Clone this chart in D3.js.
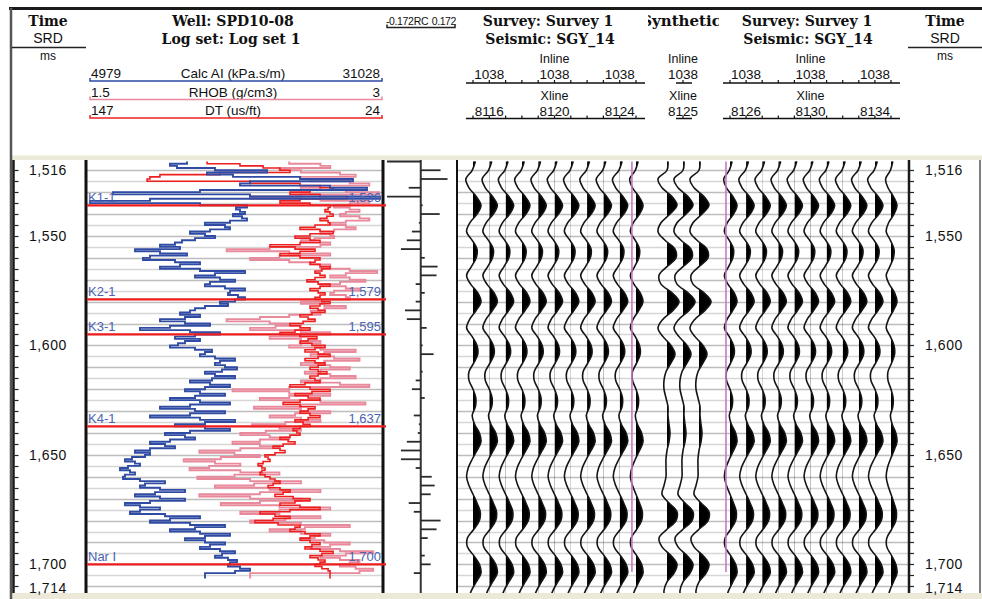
<!DOCTYPE html>
<html><head><meta charset="utf-8">
<script src="https://cdn.jsdelivr.net/npm/d3@7/dist/d3.min.js"></script>
<style>html,body{margin:0;padding:0;background:#fff;overflow:hidden}svg{display:block}</style>
</head><body>
<svg id="chart" width="982" height="599"></svg>
<script>
// ---------------- data ----------------
const timeLabels = [1516, 1550, 1600, 1650, 1700, 1714];
const markerNames = ["K1-1", "K2-1", "K3-1", "K4-1", "Nar I"];
const markerTimes = [1536, 1579, 1595, 1637, 1700];

const logStart = 1516, logStep = 1;
const calcAI = [
  13780,12269,12891,16269,20892,15558,17870,23826,28538,19381,
  18492,26493,29782,14936,7202,19381,30938,10491,5157,14936,
  19114,18136,18492,18936,17870,18670,19114,17603,15380,17158,
  17603,15825,14047,15380,16269,14491,13336,12713,11380,13158,
  9157,11380,13780,10491,9869,12713,14936,13158,11380,14936,
  18936,16269,14491,16714,18047,15825,15380,17158,18936,17603,
  17425,18314,18936,18047,16714,17425,15380,14491,14047,13158,
  14936,13602,11380,13602,15825,12269,9602,14047,16714,14491,
  12713,14936,13602,12980,12269,14491,16003,15380,14936,16269,
  18047,16714,16269,17158,18225,16892,15380,16269,18047,16003,
  14047,15825,17603,15380,13602,14936,17158,14491,12269,14936,
  17603,14047,11380,14491,17158,14047,10491,14936,18047,15380,
  12713,15380,17603,14047,11824,13602,14491,12269,10491,11824,
  12713,10491,9157,10491,10046,8891,8268,9157,9602,8535,
  7824,8713,9157,8268,8091,9602,11824,10046,9602,11380,
  13602,10935,9157,11380,13602,10491,8268,9602,11380,9602,
  8713,11824,14936,12269,10491,14047,17158,14491,12269,14936,
  17603,15380,13602,15380,17158,15825,14936,16714,18047,16892,
  16269,17425,18225,17603,17425,18492,19381,18047,15380];
const rhob = [
  2.53,2.69,2.74,2.48,2.59,2.79,2.87,2.59,2.64,2.84,
  2.94,2.69,2.59,2.82,2.99,2.59,2.33,2.69,2.94,2.84,
  2.76,2.84,2.89,2.82,2.79,2.89,2.94,2.82,2.74,2.82,
  2.87,2.76,2.69,2.74,2.76,2.66,2.59,2.74,2.69,2.43,
  2.21,2.53,2.74,2.48,2.33,2.53,2.64,2.74,2.69,2.84,
  2.98,2.82,2.74,2.84,2.92,2.79,2.69,2.82,2.89,2.76,
  2.74,2.82,2.84,2.71,2.59,2.71,2.82,2.71,2.64,2.69,
  2.53,2.38,2.21,2.43,2.59,2.46,2.33,2.59,2.74,2.59,
  2.43,2.59,2.69,2.59,2.53,2.69,2.87,2.71,2.64,2.76,
  2.89,2.71,2.59,2.74,2.84,2.69,2.61,2.74,2.87,2.69,
  2.59,2.79,2.94,2.53,2.24,2.53,2.74,2.53,2.38,2.69,
  2.92,2.59,2.35,2.59,2.74,2.56,2.43,2.59,2.69,2.51,
  2.34,2.48,2.59,2.41,2.28,2.43,2.53,2.38,2.24,2.38,
  2.48,2.28,2.07,2.25,2.38,2.18,1.99,2.15,2.28,2.12,
  2.02,2.28,2.48,2.25,2.06,2.33,2.59,2.35,2.15,2.43,
  2.69,2.38,2.07,2.33,2.59,2.38,2.18,2.48,2.74,2.48,
  2.28,2.48,2.69,2.51,2.33,2.59,2.84,2.61,2.43,2.59,
  2.74,2.66,2.59,2.71,2.84,2.74,2.64,2.79,2.96,2.82,
  2.69,2.79,2.89,2.84,2.79,2.87,2.96,2.89,2.33];
const dt = [
  97.0,83.2,73.5,66.4,62.2,91.6,116.8,121.0,122.2,79.0,
  58.0,49.6,44.1,53.8,62.2,49.6,38.3,58.0,66.4,53.8,
  45.4,46.2,47.5,45.4,44.1,46.7,49.6,46.2,45.4,51.7,
  58.0,49.6,44.1,53.8,60.1,53.8,49.6,58.0,70.6,60.1,
  51.7,58.0,66.4,58.0,49.6,51.7,53.8,49.6,45.4,48.8,
  51.7,49.6,47.5,51.7,55.1,50.4,45.4,49.6,53.8,50.4,
  47.5,49.6,51.7,48.8,45.4,49.6,53.8,50.4,47.5,53.0,
  58.0,54.6,51.7,56.7,62.2,58.0,53.8,60.1,66.4,58.0,
  50.9,54.6,58.0,53.0,47.5,51.7,55.9,50.4,45.4,50.4,
  55.9,51.7,47.5,50.4,53.8,50.4,46.7,50.4,53.8,51.7,
  49.6,55.9,62.2,53.8,45.4,53.0,60.1,54.6,49.6,58.0,
  65.1,58.0,51.7,54.6,58.0,53.8,49.6,54.6,60.1,56.7,
  53.8,58.0,60.9,59.3,58.0,62.2,66.4,63.0,60.1,65.1,
  69.3,66.4,64.3,68.5,72.7,71.4,70.6,73.5,75.6,74.0,
  72.7,74.0,74.8,72.7,70.6,68.5,66.4,69.3,71.4,66.4,
  62.2,65.1,68.5,60.9,53.8,60.1,66.4,58.0,49.6,62.2,
  74.8,68.5,62.2,69.3,76.9,67.2,58.0,60.1,62.2,55.9,
  49.6,53.8,58.0,53.8,49.6,53.0,55.9,49.6,44.1,48.8,
  53.8,50.4,47.5,49.6,51.7,48.8,46.2,45.4,45.4];

const reflStart = 1516, reflStep = 4;
const reflectivity = [-0.160,0.094,0.127,-0.057,-0.160,0.009,0.090,-0.009,-0.042,-0.066,
  -0.094,0.019,0.080,0.075,-0.024,0.019,-0.024,-0.075,-0.066,0.028,
  0,0.009,0.061,0,0.009,-0.024,-0.042,0.019,0,-0.033,
  -0.009,-0.014,-0.066,-0.094,-0.094,-0.024,0.052,0.066,0.047,-0.057,
  -0.033,0.094,0.075,0.033,0,0.019,0.047,-0.033,0,0];

const seisStart = 1516, seisStep = 4;
const seismicTrace = [0.3,-0.1,-0.9,-0.5,0.4,1.0,0.5,-0.4,-0.8,-0.1,
  0.5,0.4,-0.2,-0.8,-0.3,0.6,1.0,0.4,-0.4,-0.8,
  -0.1,0.5,0.6,0.1,-0.5,-0.5,0.0,0.35,0.3,-0.1,
  0.2,0.8,1.0,0.5,-0.1,-0.6,-0.8,-0.5,0.0,0.5,
  0.9,0.8,0.1,-0.7,-0.7,0.1,0.8,1.0,0.4,-0.2,-0.6];
const syntheticTrace = [0.1,0.0,-0.9,-0.5,0.5,1.0,0.3,-0.6,-0.9,-0.2,
  0.8,0.9,0.0,-0.8,-0.6,0.5,1.2,0.6,-0.4,-0.9,
  -0.4,0.4,0.8,0.4,-0.1,-0.3,-0.3,-0.1,0.1,0.1,
  0.2,0.3,0.2,0.0,-0.1,-0.1,-0.1,-0.3,-0.5,0.2,
  1.0,0.9,0.0,-0.8,-0.5,0.4,1.0,0.7,0.0,-0.3,-0.2];

const inlineNo = "1038";
const xlinesLeft = [8115,8116,8117,8118,8119,8120,8121,8122,8123,8124,8125];
const xlinesRight = [8125,8126,8127,8128,8129,8130,8131,8132,8133,8134,8135];
const gainLeft = [8,8,8,8,8,8,8,8,8,8,7];
const gainRight = [7,8,8,8,8,8,8,8,8,8,6];
const synthGain = [10,10,10];
const labelXlinesLeft = [8116, 8120, 8124];
const labelXlinesRight = [8126, 8130, 8134];
const synthXline = 8125;
const wellXline = 8124.75;
const logEndTime = 1703.5;
const rcRange = ["-0.172", "RC", "0.172"];

// ---------------- layout ----------------
const svg = d3.select("#chart");
const defs = svg.append("defs");
const sans = "'Liberation Sans', Arial, sans-serif";
const serif = "'DejaVu Serif', serif";
const plotTop = 160, plotBot = 593;
const yT = d3.scaleLinear().domain([1516, 1714]).range([161.5, 595]);

const xAI = d3.scaleLinear().domain([4979, 31028]).range([88, 381]);
const xRHOB = d3.scaleLinear().domain([1.5, 3]).range([88, 381]);
const xDT = d3.scaleLinear().domain([147, 24]).range([88, 381]);
const xRC = d3.scaleLinear().domain([-0.172, 0.172]).range([384.5, 457]);
const xsL = d3.scaleLinear().domain([8115, 8125]).range([473, 636]);
const xsR = d3.scaleLinear().domain([8125, 8135]).range([730, 891]);
const xsS = d3.scaleLinear().domain([0, 2]).range([667, 699]);
const COL = {ai: "#2f4ba3", rhob: "#e8899c", dt: "#ee1f1f", mk: "#ee1c1c", mkText: "#4a63b3", mag: "#c679c6"};

// frame
svg.append("rect").attr("x", 12).attr("y", 155.5).attr("width", 970).attr("height", 4.5).attr("fill", "#ece9d8");
svg.append("rect").attr("x", 12).attr("y", 593).attr("width", 970).attr("height", 6).attr("fill", "#ece9d8");
svg.append("rect").attr("x", 9).attr("y", 7).attr("width", 973).attr("height", 3).attr("fill", "#1a1a1a");
svg.append("line").attr("x1", 11).attr("x2", 11).attr("y1", 8).attr("y2", 599).attr("stroke", "#555").attr("stroke-width", 2.5);
svg.append("line").attr("x1", 980).attr("x2", 980).attr("y1", plotTop).attr("y2", plotBot).attr("stroke", "#555").attr("stroke-width", 1.5);

defs.append("clipPath").attr("id", "plotClip").append("rect")
  .attr("x", 0).attr("y", plotTop).attr("width", 982).attr("height", plotBot - plotTop);
defs.append("clipPath").attr("id", "logClip").append("rect")
  .attr("x", 87).attr("y", plotTop).attr("width", 295).attr("height", plotBot - plotTop);

const plot = svg.append("g").attr("clip-path", "url(#plotClip)");

// grid lines
const gridTimes = d3.range(1520, 1714, 5);
[[87, 382], [458, 908]].forEach(([a, b]) => {
  plot.selectAll(null).data(gridTimes).enter().append("line")
    .attr("x1", a).attr("x2", b)
    .attr("y1", d => Math.round(yT(d)) + 0.5).attr("y2", d => Math.round(yT(d)) + 0.5)
    .attr("stroke", d => d % 10 === 0 ? "#bdbdbd" : "#d6d6d6").attr("stroke-width", 1.3);
});

// time axes
function timeAxis(xLine, labelX) {
  plot.append("line").attr("x1", xLine).attr("x2", xLine).attr("y1", plotTop).attr("y2", plotBot)
    .attr("stroke", "#1a1a1a").attr("stroke-width", 2.5);
  plot.selectAll(null).data(gridTimes).enter().append("line")
    .attr("x1", xLine + 1).attr("x2", xLine + 5)
    .attr("y1", d => Math.round(yT(d)) + 0.5).attr("y2", d => Math.round(yT(d)) + 0.5)
    .attr("stroke", "#222").attr("stroke-width", 1.2);
  svg.selectAll(null).data(timeLabels).enter().append("text")
    .attr("x", labelX).attr("y", d => Math.max(170, Math.min(588, yT(d))))
    .attr("dy", "0.36em").attr("text-anchor", "middle")
    .attr("font-family", sans).attr("font-size", 14).attr("letter-spacing", 0.6).attr("fill", "#111")
    .text(d => d3.format(",")(d));
}
timeAxis(13.5, 48);
timeAxis(909, 944);

// track borders
[[86, 3], [383, 3], [457, 2]].forEach(([x, w]) => {
  plot.append("line").attr("x1", x).attr("x2", x).attr("y1", plotTop).attr("y2", plotBot)
    .attr("stroke", "#111").attr("stroke-width", w);
});
plot.append("line").attr("x1", xRC(0)).attr("x2", xRC(0)).attr("y1", plotTop).attr("y2", plotBot)
  .attr("stroke", "#333").attr("stroke-width", 2);

// reflectivity spikes
plot.selectAll(null).data(reflectivity).enter().append("line")
  .attr("x1", xRC(0)).attr("x2", d => xRC(d))
  .attr("y1", (d, i) => yT(reflStart + i * reflStep)).attr("y2", (d, i) => yT(reflStart + i * reflStep))
  .attr("stroke", "#2a2a2a").attr("stroke-width", 1.8);

// logs (step curves)
const logG = plot.append("g").attr("clip-path", "url(#logClip)");
function stepPoints(vals, xs) {
  const pts = [];
  vals.forEach((v, i) => {
    const y = yT(logStart + i * logStep);
    if (i > 0) pts.push([xs(vals[i - 1]), y]);
    pts.push([xs(v), y]);
  });
  pts.push([xs(vals[vals.length - 1]), yT(logStart + (vals.length - 1) * logStep + 2.5)]);
  return pts;
}
const lineGen = d3.line();
[[rhob, xRHOB, COL.rhob, 1.9], [dt, xDT, COL.dt, 1.6], [calcAI, xAI, COL.ai, 1.9]].forEach(([vals, xs, c, w]) => {
  logG.append("path").attr("d", lineGen(stepPoints(vals, xs)))
    .attr("fill", "none").attr("stroke", c).attr("stroke-width", w);
});

// markers
markerTimes.forEach((t, i) => {
  plot.append("line").attr("x1", 87).attr("x2", 386).attr("y1", yT(t)).attr("y2", yT(t))
    .attr("stroke", COL.mk).attr("stroke-width", 2.2);
  plot.append("text").attr("x", 88).attr("y", yT(t) - 3).attr("font-family", sans).attr("font-size", 13)
    .attr("fill", COL.mkText).text(markerNames[i]);
  plot.append("text").attr("x", 381).attr("y", yT(t) - 3).attr("text-anchor", "end").attr("font-family", sans)
    .attr("font-size", 13).attr("fill", COL.mkText).text(d3.format(",")(t));
});

// seismic wiggles
let clipN = 0;
function drawTrace(x0, gain, vals) {
  const pts = vals.map((v, i) => ({t: seisStart + i * seisStep, v}));
  const ax = d3.scaleLinear().domain([-1, 1]).range([x0 - gain, x0 + gain]);
  const id = "tc" + (clipN++);
  defs.append("clipPath").attr("id", id).append("rect")
    .attr("x", x0).attr("y", plotTop).attr("width", 40).attr("height", plotBot - plotTop);
  const area = d3.area().y(d => yT(d.t)).x0(x0).x1(d => ax(d.v)).curve(d3.curveCatmullRom);
  plot.append("path").attr("d", area(pts)).attr("fill", "#000").attr("clip-path", `url(#${id})`);
  const ln = d3.line().y(d => yT(d.t)).x(d => ax(d.v)).curve(d3.curveCatmullRom);
  plot.append("path").attr("d", ln(pts)).attr("fill", "none").attr("stroke", "#151515").attr("stroke-width", 1.6);
}
xlinesLeft.forEach((xl, i) => drawTrace(xsL(xl), gainLeft[i], seismicTrace));
synthGain.forEach((g, i) => drawTrace(xsS(i), g, syntheticTrace));
xlinesRight.forEach((xl, i) => drawTrace(xsR(xl), gainRight[i], seismicTrace));

// well position lines
[xsL(wellXline), xsR(wellXline)].forEach(x => {
  plot.append("line").attr("x1", x).attr("x2", x).attr("y1", yT(1516)).attr("y2", yT(logEndTime))
    .attr("stroke", COL.mag).attr("stroke-width", 1.6);
});

// ---------------- header ----------------
function txt(x, y, s, opt = {}) {
  return svg.append("text").attr("x", x).attr("y", y)
    .attr("text-anchor", opt.anchor || "middle")
    .attr("font-family", opt.serif ? serif : sans)
    .attr("font-weight", opt.serif ? "bold" : "normal")
    .attr("font-size", opt.size || 14).attr("fill", opt.fill || "#111").text(s);
}
// time headers
[[48, 12, 86], [945, 908, 982]].forEach(([cx, a, b]) => {
  txt(cx, 26, "Time", {serif: true, size: 14});
  txt(cx, 43, "SRD", {size: 14});
  svg.append("line").attr("x1", a).attr("x2", b).attr("y1", 47.5).attr("y2", 47.5).attr("stroke", "#222").attr("stroke-width", 1.5);
  txt(cx, 60, "ms", {size: 12});
});
// well header
txt(233, 26, "Well: SPD10-08", {serif: true});
txt(231, 44, "Log set: Log set 1", {serif: true});
const logHeads = [
  {l: "4979", n: "Calc AI (kPa.s/m)", r: "31028", c: COL.ai, y: 78},
  {l: "1.5", n: "RHOB (g/cm3)", r: "3", c: COL.rhob, y: 96.5},
  {l: "147", n: "DT (us/ft)", r: "24", c: COL.dt, y: 115}
];
function bracket(x1, x2, y, c) {
  svg.append("path").attr("d", `M${x1},${y - 3}V${y}H${x2}V${y - 3}`).attr("fill", "none")
    .attr("stroke", c).attr("stroke-width", 1.5);
}
logHeads.forEach(h => {
  txt(91, h.y, h.l, {anchor: "start", size: 13.5});
  txt(233, h.y, h.n, {size: 13.5});
  txt(380, h.y, h.r, {anchor: "end", size: 13.5});
  bracket(90, 382, h.y + 3, h.c);
});
// reflectivity header (compressed so the three labels fit side by side)
txt(386, 25, rcRange[0], {anchor: "start", size: 10.5}).attr("letter-spacing", -0.4);
txt(421, 25, rcRange[1], {size: 10.5}).attr("letter-spacing", -0.4);
txt(456, 25, rcRange[2], {anchor: "end", size: 10.5}).attr("letter-spacing", -0.4);
bracket(387, 455, 27.5, "#222");

// seismic headers
function seisHead(cx, xs, xlines, labels) {
  txt(cx, 63, "Inline", {size: 12.5});
  txt(cx, 100, "Xline", {size: 12.5});
  labels.forEach(xl => {
    txt(xs(xl), 79, inlineNo, {size: 13.5});
    txt(xs(xl), 116, String(xl), {size: 13.5});
  });
  const a = xs(xlines[0]) - 7, b = xs(xlines[xlines.length - 1]) + 9;
  [83, 118.5].forEach(y => {
    svg.append("line").attr("x1", a).attr("x2", b).attr("y1", y).attr("y2", y).attr("stroke", "#111").attr("stroke-width", 1.5);
    svg.selectAll(null).data(xlines).enter().append("line")
      .attr("x1", d => xs(d)).attr("x2", d => xs(d)).attr("y1", y).attr("y2", y - 3)
      .attr("stroke", "#111").attr("stroke-width", 1.2);
  });
}
txt(548, 26, "Survey: Survey 1", {serif: true});
txt(550, 44, "Seismic: SGY_14", {serif: true});
seisHead(554.5, xsL, xlinesLeft, labelXlinesLeft);
txt(807, 26, "Survey: Survey 1", {serif: true});
txt(808, 44, "Seismic: SGY_14", {serif: true});
seisHead(810.5, xsR, xlinesRight, labelXlinesRight);
// synthetic column
defs.append("clipPath").attr("id", "synClip").append("rect").attr("x", 648).attr("y", 0).attr("width", 71).attr("height", 40);
txt(681, 26, "Synthetic", {serif: true, size: 15}).attr("clip-path", "url(#synClip)");
const synX = d3.scaleLinear().domain([synthXline - 1, synthXline + 1]).range([667, 699]);
seisHead(683, synX, [synthXline], [synthXline]);
</script>
</body></html>
